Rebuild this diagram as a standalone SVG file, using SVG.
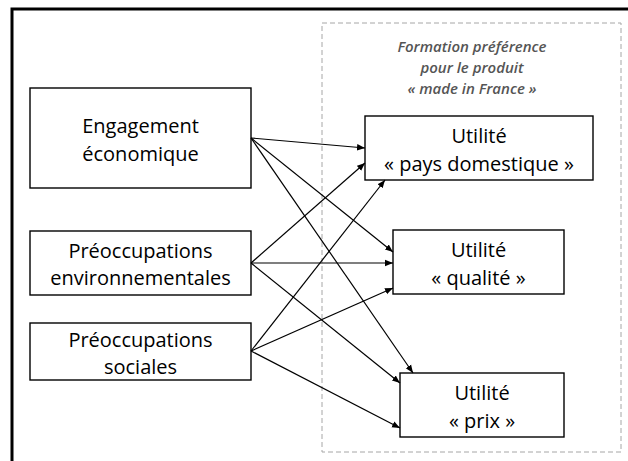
<svg xmlns="http://www.w3.org/2000/svg" width="628" height="461" viewBox="0 0 628 461">
<style>
.box{fill:#fff;stroke:#000;stroke-width:1.4}
.t{font-family:"Open Sans","Liberation Sans",sans-serif;font-size:20px;fill:#000;text-anchor:middle}
.h{font-family:"Open Sans","Liberation Sans",sans-serif;font-size:15px;font-style:italic;font-weight:600;fill:#555;text-anchor:middle}
.c{stroke:#000;stroke-width:1.2;fill:none;marker-end:url(#ah)}
</style>
<defs>
<marker id="ah" viewBox="0 0 10 10" refX="10" refY="5" markerWidth="8" markerHeight="8" markerUnits="userSpaceOnUse" orient="auto">
<path d="M0,1 L10,5 L0,9 Z" fill="#000"/>
</marker>
</defs>
<rect width="628" height="461" fill="#fff"/>
<path d="M12,461 V9 H628" fill="none" stroke="#000" stroke-width="3"/>
<g id="group-formation">
<rect x="322" y="23" width="299" height="429" fill="none" stroke="#a6a6a6" stroke-width="1" stroke-dasharray="5,3"/>
<text class="h" x="472" y="52">Formation préférence</text>
<text class="h" x="472" y="73">pour le produit</text>
<text class="h" x="472" y="94">« made in France »</text>
</g>
<g id="n-engagement">
<rect class="box" x="30" y="88" width="221" height="100"/>
<text class="t" x="140.5" y="133">Engagement</text>
<text class="t" x="140.5" y="161">économique</text>
</g>
<g id="n-env">
<rect class="box" x="30" y="231" width="221" height="64"/>
<text class="t" x="140.5" y="258">Préoccupations</text>
<text class="t" x="140.5" y="285">environnementales</text>
</g>
<g id="n-soc">
<rect class="box" x="30" y="323" width="221" height="57"/>
<text class="t" x="140.5" y="347">Préoccupations</text>
<text class="t" x="140.5" y="374">sociales</text>
</g>
<g id="n-pays">
<rect class="box" x="365" y="116" width="228" height="64"/>
<text class="t" x="479" y="143">Utilité</text>
<text class="t" x="479" y="171">« pays domestique »</text>
</g>
<g id="n-qualite">
<rect class="box" x="393" y="230" width="171" height="64"/>
<text class="t" x="478.5" y="257">Utilité</text>
<text class="t" x="478.5" y="285">« qualité »</text>
</g>
<g id="n-prix">
<rect class="box" x="400" y="373" width="164" height="64"/>
<text class="t" x="482" y="400">Utilité</text>
<text class="t" x="482" y="428">« prix »</text>
</g>
<g id="connectors">
<line class="c" x1="251" y1="138" x2="365" y2="148"/>
<line class="c" x1="251" y1="138" x2="393" y2="252"/>
<line class="c" x1="251" y1="138" x2="413" y2="373"/>
<line class="c" x1="251" y1="263" x2="365" y2="163"/>
<line class="c" x1="251" y1="263" x2="393" y2="263"/>
<line class="c" x1="251" y1="263" x2="400" y2="383"/>
<line class="c" x1="251" y1="351" x2="385" y2="180"/>
<line class="c" x1="251" y1="351" x2="393" y2="288"/>
<line class="c" x1="251" y1="351" x2="400" y2="428"/>
</g>
</svg>
